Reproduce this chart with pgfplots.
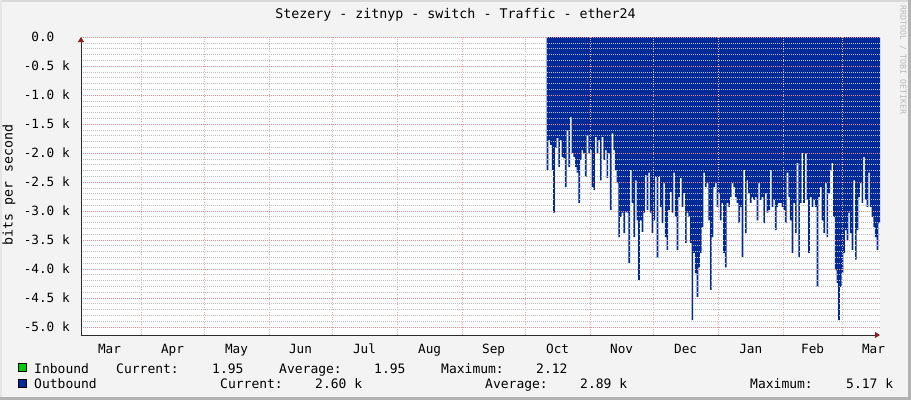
\documentclass[border=0pt]{standalone}
\usepackage{fontspec}
\setmainfont{DejaVu Sans Mono}
\setmonofont{DejaVu Sans Mono}
\usepackage{pgfplots}
\pgfplotsset{compat=1.18}
\usepackage{pgfplotstable}
\usetikzlibrary{arrows.meta}

\definecolor{canvas}{HTML}{F3F3F3}
\definecolor{outcol}{HTML}{002A97}
\definecolor{incol}{HTML}{00CC00}
\definecolor{majgrid}{RGB}{238,140,140}
\definecolor{mingrid}{RGB}{190,190,190}
\definecolor{arrowred}{RGB}{140,30,30}
\newcommand\ft[1]{\fontsize{#1}{#1}\selectfont}

% outbound traffic, days since 1 Apr, k bits/s (plotted negative)
\pgfplotstableread{
day val
193.3 -2.29
194.1 -1.78
194.9 -1.86
195.7 -2.29
196.4 -3.03
197.2 -1.91
198.0 -1.74
198.8 -2.24
199.6 -1.78
200.4 -2.07
201.2 -2.09
202.0 -2.59
202.8 -1.60
203.6 -2.24
204.4 -1.38
205.2 -2.00
206.0 -2.07
206.8 -2.24
207.6 -2.34
208.4 -2.86
209.2 -2.12
209.9 -1.95
210.7 -2.00
211.5 -2.41
212.3 -1.69
213.1 -2.00
213.9 -1.95
214.7 -2.59
215.5 -2.64
216.3 -1.72
217.1 -2.00
217.9 -1.78
218.7 -2.47
219.5 -1.72
220.3 -2.12
221.1 -1.95
221.9 -2.43
222.6 -2.00
223.4 -2.98
224.2 -1.66
225.0 -1.95
225.8 -2.29
226.6 -2.52
227.4 -3.45
228.2 -3.10
229.0 -3.03
229.8 -3.38
230.6 -3.02
231.4 -3.03
232.2 -3.90
233.0 -2.29
233.8 -2.86
234.6 -3.45
235.4 -2.47
236.1 -3.16
236.9 -4.19
237.7 -3.16
238.5 -3.36
239.3 -3.03
240.1 -2.38
240.9 -2.98
241.7 -2.34
242.5 -3.03
243.3 -3.38
244.1 -3.16
244.9 -2.41
245.7 -3.81
246.5 -2.41
247.3 -2.93
248.1 -3.21
248.9 -2.52
249.6 -3.45
250.4 -3.67
251.2 -2.98
252.0 -2.67
252.8 -3.03
253.6 -2.34
254.4 -3.10
255.2 -3.67
256.0 -2.76
256.8 -2.43
257.6 -2.93
258.4 -2.69
259.2 -3.55
260.0 -3.03
260.8 -3.10
261.6 -3.55
262.3 -4.88
263.1 -3.72
263.9 -4.07
264.7 -4.48
265.5 -3.97
266.3 -3.72
267.1 -3.28
267.9 -2.34
268.7 -2.59
269.5 -2.52
270.3 -3.16
271.1 -4.36
271.9 -3.45
272.7 -2.59
273.5 -2.52
274.3 -2.93
275.1 -2.69
275.8 -3.16
276.6 -2.86
277.4 -3.72
278.2 -3.97
279.0 -2.86
279.8 -2.93
280.6 -2.76
281.4 -2.52
282.2 -2.59
283.0 -2.76
283.8 -2.86
284.6 -3.21
285.4 -2.93
286.2 -3.79
287.0 -2.29
287.8 -3.38
288.6 -2.47
289.3 -2.69
290.1 -2.86
290.9 -2.76
291.7 -2.81
292.5 -2.76
293.3 -3.16
294.1 -2.52
294.9 -2.81
295.7 -2.76
296.5 -3.21
297.3 -2.69
298.1 -3.03
298.9 -2.98
299.7 -2.29
300.5 -2.93
301.3 -2.81
302.0 -3.33
302.8 -2.93
303.6 -2.86
304.4 -2.86
305.2 -2.93
306.0 -2.98
306.8 -3.21
307.6 -2.34
308.4 -2.76
309.2 -3.16
310.0 -3.72
310.8 -2.86
311.6 -3.38
312.4 -2.17
313.2 -3.79
313.9 -2.86
314.7 -2.00
315.5 -2.86
316.3 -2.00
317.1 -2.81
317.9 -3.72
318.7 -2.76
319.5 -2.93
320.3 -2.81
321.1 -2.93
321.9 -4.31
322.7 -2.76
323.5 -2.59
324.3 -3.16
325.1 -3.38
325.9 -2.52
326.7 -3.45
327.4 -2.69
328.3 -2.29
329.0 -2.17
329.8 -3.10
330.6 -4.02
331.4 -4.24
332.2 -4.88
333.0 -4.31
333.8 -4.07
334.6 -3.72
335.4 -3.33
336.2 -3.50
337.0 -3.03
337.8 -3.38
338.6 -3.67
339.4 -2.47
340.2 -3.84
341.0 -3.33
341.8 -2.76
342.5 -2.52
343.3 -2.86
344.1 -2.07
344.9 -2.81
345.7 -2.93
346.5 -2.34
347.3 -2.93
348.1 -3.10
348.9 -3.28
349.7 -3.45
350.5 -3.67
351.3 -3.21
352.1 -2.59
}\outdata

\begin{document}
\begin{tikzpicture}[x=1pt,y=1pt]
  \useasboundingbox (0,0) rectangle (911,400);
  \fill[canvas] (0,0) rectangle (911,400);
  \fill[gray!30] (0,398) rectangle (911,400);
  \fill[gray!20] (0,0) rectangle (2,400);
  \fill[gray!60] (908,0) rectangle (911,400);
  \fill[gray!60] (0,0) rectangle (911,3);

  \begin{axis}[
    at={(81pt,65pt)}, anchor=south west,
    scale only axis, width=799pt, height=298pt,
    xmin=-28.6, xmax=352.1, ymin=-5.138, ymax=0,
    axis background/.style={fill=white},
    axis on top,
    axis x line=bottom, axis y line=left,
    axis line style={draw=gray!35!black, line width=0.8pt},
    x axis line style={-{Triangle[length=5pt,width=6pt,color=arrowred]}},
    y axis line style={-{Triangle[length=5pt,width=6pt,color=arrowred]}},
    tick style={draw=none},
    xtick={0,30,61,91,122,153,183,214,244,275,306,334},
    xticklabels={},
    xmajorgrids,
    x grid style={draw=majgrid!75, line width=0.5pt, dash pattern=on 1pt off 1.5pt},
    extra x ticks={-15,15,45.5,76,106.5,137.5,168,198.5,229,259.5,290.5,320,349},
    extra x tick labels={Mar,Apr,May,Jun,Jul,Aug,Sep,Oct,Nov,Dec,Jan,Feb,Mar},
    extra x tick style={grid=none, tick style={draw=none},
      xticklabel style={font=\ft{12.7}, anchor=base, inner sep=0pt, yshift=-16pt}},
    ytick={-5,-4.5,-4,-3.5,-3,-2.5,-2,-1.5,-1,-0.5,0},
    yticklabels={-5.0 k,-4.5 k,-4.0 k,-3.5 k,-3.0 k,-2.5 k,-2.0 k,-1.5 k,-1.0 k,-0.5 k,0.0\phantom{ k}},
    yticklabel style={font=\ft{12.7}, anchor=east, inner sep=0pt, xshift=-9pt},
    minor y tick num=4,
    ymajorgrids, yminorgrids,
    major grid style={draw=majgrid, line width=0.6pt, dash pattern=on 1pt off 1pt},
    minor grid style={draw=mingrid, line width=0.6pt, dash pattern=on 1pt off 1pt},
  ]
    \addplot[const plot mark left, draw=none, fill=outcol] table[x=day, y=val] {\outdata} \closedcycle;
  \end{axis}

  \node[anchor=base, font=\ft{13.3}] at (455.5,381) {Stezery - zitnyp - switch - Traffic - ether24};
  \node[rotate=90, font=\ft{13.3}] at (9,215) {bits per second};
  \node[rotate=-90, font=\ft{8.3}, text=gray!55] at (903,340) {RRDTOOL / TOBI OETIKER};

  % legend
  \filldraw[fill=incol, draw=black, line width=0.8pt] (18.5,28.5) rectangle (26.5,36.5);
  \filldraw[fill=outcol, draw=black, line width=0.8pt] (18.5,12.5) rectangle (26.5,20.5);
  \begin{scope}[every node/.style={anchor=base west, inner sep=0pt, font=\ft{13}}]
    \node at (34,27) {Inbound};
    \node at (116,27) {Current:};
    \node at (212,27) {1.95};
    \node at (279,27) {Average:};
    \node at (374,27) {1.95};
    \node at (441,27) {Maximum:};
    \node at (536,27) {2.12};
    \node at (34,12) {Outbound};
    \node at (220,12) {Current:};
    \node at (315,12) {2.60 k};
    \node at (485,12) {Average:};
    \node at (580,12) {2.89 k};
    \node at (750,12) {Maximum:};
    \node at (846,12) {5.17 k};
  \end{scope}
\end{tikzpicture}
\end{document}
